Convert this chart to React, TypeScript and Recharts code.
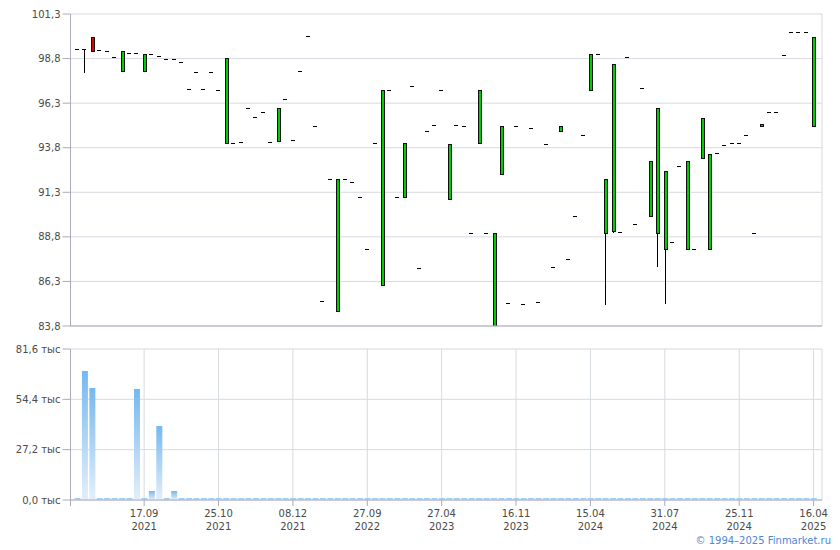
import { ComposedChart, BarChart, Bar, XAxis, YAxis, CartesianGrid } from 'recharts'

// цены по торговым дням (индекс = позиция на оси)
const opens = [
  99.34, 99.34, 100.0, 99.26, 99.21, 98.87, 98.09, 99.1, 99.1, 98.09,
  99.04, 98.93, 98.78, 98.78, 98.59, 97.09, 98.03, 97.08, 98.03, 97.05,
  94.05, 94.05, 94.1, 96.01, 95.51, 95.79, 94.1, 94.19, 96.52, 94.22,
  98.09, 100.05, 95.0, 85.19, 92.03, 84.63, 92.03, 91.86, 91.02, 88.1,
  94.05, 86.08, 97.02, 91.02, 91.02, 97.25, 87.04, 94.72, 95.06, 97.02,
  90.91, 95.06, 95.0, 89.0, 94.05, 89.0, 83.8, 92.31, 85.07, 95.0,
  85.02, 94.89, 85.13, 93.99, 87.09, 94.72, 87.54, 89.99, 94.5, 97.02,
  99.04, 89.03, 89.15, 89.06, 98.87, 89.5, 97.13, 89.99, 89.03, 88.14,
  88.5, 92.76, 88.1, 88.1, 93.21, 88.1, 93.49, 93.94, 94.07, 94.07,
  94.5, 89.0, 95.0, 95.79, 95.79, 98.98, 100.27, 100.27, 100.27, 95.0,
]
const closes = [
  99.34, 99.34, 99.24, 99.26, 99.21, 98.87, 99.21, 99.1, 99.1, 99.04,
  99.04, 98.93, 98.78, 98.78, 98.59, 97.09, 98.03, 97.08, 98.03, 97.05,
  98.82, 94.05, 94.1, 96.01, 95.51, 95.79, 94.1, 96.01, 96.52, 94.22,
  98.09, 100.05, 95.0, 85.19, 92.03, 92.03, 92.03, 91.86, 91.02, 88.1,
  94.05, 97.02, 97.02, 91.02, 94.05, 97.25, 87.04, 94.72, 95.06, 97.02,
  93.99, 95.06, 95.0, 89.0, 97.02, 89.0, 89.0, 95.0, 85.07, 95.0,
  85.02, 94.89, 85.13, 93.99, 87.09, 95.0, 87.54, 89.99, 94.5, 99.04,
  99.04, 92.03, 98.48, 89.06, 98.87, 89.5, 97.13, 93.04, 96.01, 92.48,
  88.5, 92.76, 93.04, 88.1, 95.45, 93.43, 93.49, 93.94, 94.07, 94.07,
  94.5, 89.0, 95.11, 95.79, 95.79, 98.98, 100.27, 100.27, 100.27, 99.99,
]
const highs = [
  99.34, 99.34, 100.0, 99.26, 99.21, 98.87, 99.21, 99.1, 99.1, 99.04,
  99.04, 98.93, 98.78, 98.78, 98.59, 97.09, 98.03, 97.08, 98.03, 97.05,
  98.82, 94.05, 94.1, 96.01, 95.51, 95.79, 94.1, 96.01, 96.52, 94.22,
  98.09, 100.05, 95.0, 85.19, 92.03, 92.03, 92.03, 91.86, 91.02, 88.1,
  94.05, 97.02, 97.02, 91.02, 94.05, 97.25, 87.04, 94.72, 95.06, 97.02,
  93.99, 95.06, 95.0, 89.0, 97.02, 89.0, 89.0, 95.0, 85.07, 95.0,
  85.02, 94.89, 85.13, 93.99, 87.09, 95.0, 87.54, 89.99, 94.5, 99.04,
  99.04, 92.03, 98.48, 89.06, 98.87, 89.5, 97.13, 93.04, 96.01, 92.48,
  88.5, 92.76, 93.04, 88.1, 95.45, 93.43, 93.49, 93.94, 94.07, 94.07,
  94.5, 89.0, 95.11, 95.79, 95.79, 98.98, 100.27, 100.27, 100.27, 99.99,
]
const lows = [
  99.34, 98.0, 99.24, 99.26, 99.21, 98.87, 98.09, 99.1, 99.1, 98.09,
  99.04, 98.93, 98.78, 98.78, 98.59, 97.09, 98.03, 97.08, 98.03, 97.05,
  94.05, 94.05, 94.1, 96.01, 95.51, 95.79, 94.1, 94.19, 96.52, 94.22,
  98.09, 100.05, 95.0, 85.19, 92.03, 84.63, 92.03, 91.86, 91.02, 88.1,
  94.05, 86.08, 97.02, 91.02, 91.02, 97.25, 87.04, 94.72, 95.06, 97.02,
  90.91, 95.06, 95.0, 89.0, 94.05, 89.0, 83.8, 92.31, 85.07, 95.0,
  85.02, 94.89, 85.13, 93.99, 87.09, 94.72, 87.54, 89.99, 94.5, 97.02,
  99.04, 85.0, 89.04, 89.06, 98.87, 89.5, 97.13, 89.99, 87.09, 85.05,
  88.5, 92.76, 88.1, 88.1, 93.21, 88.1, 93.49, 93.94, 94.07, 94.07,
  94.5, 89.0, 95.0, 95.79, 95.79, 98.98, 100.27, 100.27, 100.27, 95.0,
]
// объём, тыс
const volumes = [
  0.9, 69.7, 60.5, 0.9, 0.9, 0.9, 0.9, 0.9, 60.0, 0.9,
  4.9, 40.0, 0.9, 4.9, 0.9, 0.9, 0.9, 0.9, 0.9, 0.9,
  0.9, 0.9, 0.9, 0.9, 0.9, 0.9, 0.9, 0.9, 0.9, 0.9,
  0.9, 0.9, 0.9, 0.9, 0.9, 0.9, 0.9, 0.9, 0.9, 0.9,
  0.9, 0.9, 0.9, 0.9, 0.9, 0.9, 0.9, 0.9, 0.9, 0.9,
  0.9, 0.9, 0.9, 0.9, 0.9, 0.9, 0.9, 0.9, 0.9, 0.9,
  0.9, 0.9, 0.9, 0.9, 0.9, 0.9, 0.9, 0.9, 0.9, 0.9,
  0.9, 0.9, 0.9, 0.9, 0.9, 0.9, 0.9, 0.9, 0.9, 0.9,
  0.9, 0.9, 0.9, 0.9, 0.9, 0.9, 0.9, 0.9, 0.9, 0.9,
  0.9, 0.9, 0.9, 0.9, 0.9, 0.9, 0.9, 0.9, 0.9, 0.9,
]

const tickIndex = [9, 19, 29, 39, 49, 59, 69, 79, 89, 99]
const tickDates = ['17.09', '25.10', '08.12', '27.09', '27.04', '16.11', '15.04', '31.07', '25.11', '16.04']
const tickYears = ['2021', '2021', '2021', '2022', '2023', '2023', '2024', '2024', '2024', '2025']
const priceTicks = [83.8, 86.3, 88.8, 91.3, 93.8, 96.3, 98.8, 101.3]
const volumeTicks = [0, 27.2, 54.4, 81.6]

const data = opens.map((open, i) => ({
  i, open, close: closes[i], high: highs[i], low: lows[i], volume: volumes[i],
}))

const X_DOMAIN: [number, number] = [-0.9, 100.13]
const X_TICKS = [X_DOMAIN[0], ...tickIndex]
const FONT = 'DejaVu Sans, Verdana, sans-serif'
const AXIS_COLOR = '#aaaabb'
const GRID_COLOR = '#d5dbe0'
const TICK_STYLE = { fontSize: 10, fill: '#4a4a4a', fontFamily: FONT }
const fmt = (v: number) => v.toFixed(1).replace('.', ',')

function Candle(props: any) {
  const { x, y, width, height, payload } = props
  if (x == null || y == null || !payload) return null
  const { open, close, high, low } = payload
  const top = Math.min(y, y + height)
  const bottom = Math.max(y, y + height)
  const span = high - low
  const py = (v: number) => (span === 0 ? top : top + ((high - v) / span) * (bottom - top))
  const cx = Math.floor(x + width / 2)
  const bodyTop = Math.round(py(Math.max(open, close)))
  const bodyBottom = Math.round(py(Math.min(open, close)))
  const lowY = Math.round(py(low))
  const wick = lowY > bodyBottom
    ? <rect x={cx} y={bodyBottom} width={1} height={lowY - bodyBottom} fill="#000" />
    : null
  if (bodyBottom - bodyTop < 1) {
    return (
      <g shapeRendering="crispEdges">
        {wick}
        <rect x={cx - 2} y={bodyTop} width={4} height={1} fill="#000" />
      </g>
    )
  }
  const h = bodyBottom - bodyTop + 1
  return (
    <g shapeRendering="crispEdges">
      {wick}
      <rect x={cx - 1} y={bodyTop} width={4} height={h} fill="#111" />
      {h > 2 && (
        <rect x={cx} y={bodyTop + 1} width={2} height={h - 2} fill={close >= open ? '#00cc00' : '#dd0000'} />
      )}
    </g>
  )
}

function DateTick(props: any) {
  const { x, y, payload } = props
  const k = tickIndex.indexOf(payload.value)
  if (k < 0) return <g />
  return (
    <g>
      <text x={x} y={y + 9} textAnchor="middle" {...TICK_STYLE}>{tickDates[k]}</text>
      <text x={x} y={y + 22} textAnchor="middle" {...TICK_STYLE}>{tickYears[k]}</text>
    </g>
  )
}

export default function App() {
  return (
    <div style={{ position: 'absolute', left: 0, top: 0, width: 840, height: 550, background: '#fff' }}>
      <div style={{ position: 'absolute', left: 0, top: 0 }}>
        <ComposedChart width={840} height={340} data={data} margin={{ top: 14, right: 18, bottom: 6, left: 0 }}>
          <CartesianGrid stroke={GRID_COLOR} />
          <XAxis
            dataKey="i" type="number" domain={X_DOMAIN} ticks={X_TICKS} allowDataOverflow
            height={8} tickSize={6} tick={false} stroke={AXIS_COLOR}
          />
          <YAxis
            type="number" domain={[83.8, 101.3]} ticks={priceTicks} allowDataOverflow
            width={70.5} tickSize={8} tickMargin={2} tickFormatter={fmt} tick={TICK_STYLE}
            stroke={AXIS_COLOR} interval={0}
          />
          <Bar
            dataKey={(d: any) => [d.low, d.high]} barSize={4} shape={Candle}
            isAnimationActive={false}
          />
        </ComposedChart>
      </div>
      <div style={{ position: 'absolute', left: 0, top: 340 }}>
        <BarChart width={840} height={210} data={data} margin={{ top: 9, right: 18, bottom: 10, left: 0 }}>
          <defs>
            <linearGradient id="vol-grad" x1="0" y1="0" x2="0" y2="1">
              <stop offset="0%" stopColor="#76b8ef" />
              <stop offset="100%" stopColor="#e3effa" />
            </linearGradient>
          </defs>
          <CartesianGrid stroke={GRID_COLOR} />
          <XAxis
            dataKey="i" type="number" domain={X_DOMAIN} ticks={X_TICKS} allowDataOverflow
            height={40} tickSize={6} tickMargin={2} tick={<DateTick />} stroke={AXIS_COLOR} interval={0}
          />
          <YAxis
            type="number" domain={[0, 81.6]} ticks={volumeTicks} allowDataOverflow
            width={70.5} tickSize={8} tickMargin={2} tickFormatter={(v: number) => `${fmt(v)} тыс`}
            tick={TICK_STYLE} stroke={AXIS_COLOR} interval={0}
          />
          <Bar dataKey="volume" barSize={6} fill="url(#vol-grad)" isAnimationActive={false} />
        </BarChart>
      </div>
      <div
        style={{
          position: 'absolute', right: 9, top: 535, fontFamily: FONT, fontSize: 10,
          color: '#4f86d6', whiteSpace: 'nowrap',
        }}
      >
        © 1994–2025 Finmarket.ru
      </div>
    </div>
  )
}
